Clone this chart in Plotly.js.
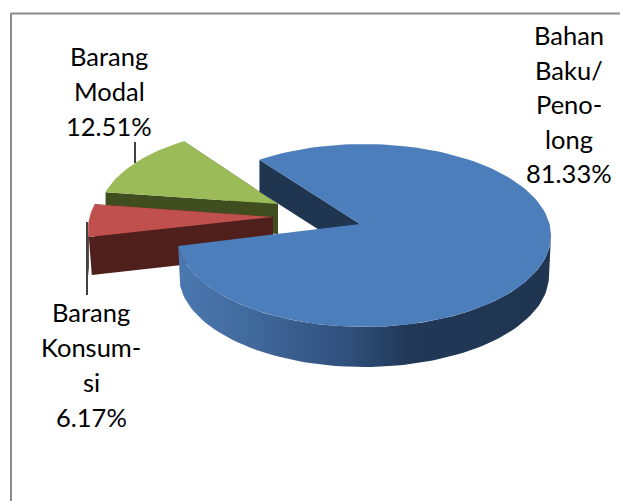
<!DOCTYPE html>
<html><head><meta charset="utf-8">
<script src="https://cdn.plot.ly/plotly-3.0.1.min.js"></script>
<style>html,body{margin:0;padding:0;background:#fff}</style></head>
<body><div id="c" style="width:620px;height:501px"></div>
<script>
const categories = ["Bahan Baku/Penolong", "Barang Modal", "Barang Konsumsi"];
const shares = [81.33, 12.51, 6.17];
const labelLines = [["Bahan","Baku/","Peno-","long","81.33%"],["Barang","Modal","12.51%"],["Barang","Konsum-","si","6.17%"]];

const geo = [
 {cx:364,cy:235.5,ax:360,ay:224,rx:187,ry:91.5,start:236,k:1.016,depth:40,backDepth:32,top:'#4c7ebb',wall:'#1f3550'},
 {cx:282,cy:215.5,ax:278,ay:204,rx:183,ry:88,start:195.4,k:0.937,depth:30,backDepth:30,top:'#9bbb59',wall:'#3f4d1f'},
 {cx:277,cy:228.5,ax:273,ay:217,rx:189,ry:91.5,start:174.7,k:0.93,depth:39,backDepth:38,top:'#c0504d',wall:'#4f1f1c'}
];
function arc(g,a0,a1,dy,sh){const X=[],Y=[];const n=Math.max(2,Math.ceil(Math.abs(a1-a0)/2));
 for(let i=0;i<=n;i++){const t=(a0+(a1-a0)*i/n)*Math.PI/180;
  X.push(g.cx+(g.rx-(sh||0))*Math.cos(t));Y.push(g.cy+dy+g.ry*Math.sin(t));}
 return {X,Y};}
function poly(X,Y,color,extra){return Object.assign({type:'scatter',mode:'lines',x:X.concat(X[0]),y:Y.concat(Y[0]),fill:'toself',fillcolor:color,line:{width:0,color:color},hoverinfo:'skip',showlegend:false},extra||{});}
const traces=[];
function wedge(i,wallExtra,shrink){
 const g=geo[i],sweep=shares[i]*3.6*g.k,a0=g.start,a1=a0+sweep;
 const top=arc(g,a0,a1,0);
 const ps=[top.X[0],top.Y[0]],pe=[top.X[top.X.length-1],top.Y[top.Y.length-1]];
 traces.push(poly([ps[0],g.ax,g.ax,ps[0]+(i===2?3:0)],[ps[1],g.ay,g.ay+g.backDepth,ps[1]+g.backDepth],g.wall));
 if(i!==0) traces.push(poly([pe[0],g.ax,g.ax,pe[0]],[pe[1],g.ay,g.ay+g.depth,pe[1]+g.depth],g.wall));
 const ranges=[];for(const k of [0,360]){const lo=Math.max(a0,k),hi=Math.min(a1,k+180);if(hi>lo)ranges.push([lo,hi]);}
 ranges.forEach(r=>{const u=arc(g,r[0],r[1],0),d=arc(g,r[1],r[0],g.depth,shrink||0);
  traces.push(poly(u.X.concat(d.X),u.Y.concat(d.Y),g.wall,wallExtra));});
 traces.push(poly([g.ax].concat(top.X),[g.ay].concat(top.Y),g.top));
}
wedge(1);
wedge(2);
wedge(0,{fillgradient:{type:'horizontal',start:178,stop:551,colorscale:[[0,'#4a78b0'],[0.2,'#41699c'],[0.45,'#30507c'],[0.62,'#213858'],[1,'#1f3550']]}},2);

const annotations=[];
const anchors=[{x:569,y:35,h:34.5},{x:109,y:55.5,h:35},{x:91,y:312,h:35}];
labelLines.forEach((ls,i)=>ls.forEach((s,j)=>annotations.push({xref:'x',yref:'y',x:anchors[i].x,y:anchors[i].y+j*anchors[i].h,text:s,showarrow:false,xanchor:'center',yanchor:'middle',font:{family:'Lato, sans-serif',size:25.5,color:'#000'}})));

const shapes=[
 {type:'line',xref:'x',yref:'y',x0:11,x1:620,y0:13.5,y1:13.5,line:{color:'#8c8c8c',width:2}},
 {type:'line',xref:'x',yref:'y',x0:11,x1:11,y0:13,y1:501,line:{color:'#8c8c8c',width:2}},
 {type:'line',xref:'x',yref:'y',x0:135,x1:135,y0:142,y1:163,line:{color:'#000',width:1.5}},
 {type:'line',xref:'x',yref:'y',x0:87,x1:87,y0:222,y1:295,line:{color:'#000',width:1.5}}
];
Plotly.newPlot('c',traces,{
 width:620,height:501,margin:{l:0,r:0,t:0,b:0},paper_bgcolor:'#fff',plot_bgcolor:'#fff',showlegend:false,
 xaxis:{range:[0,620],visible:false,fixedrange:true},
 yaxis:{range:[501,0],visible:false,fixedrange:true},
 annotations,shapes
},{displayModeBar:false,staticPlot:true});
</script></body></html>
